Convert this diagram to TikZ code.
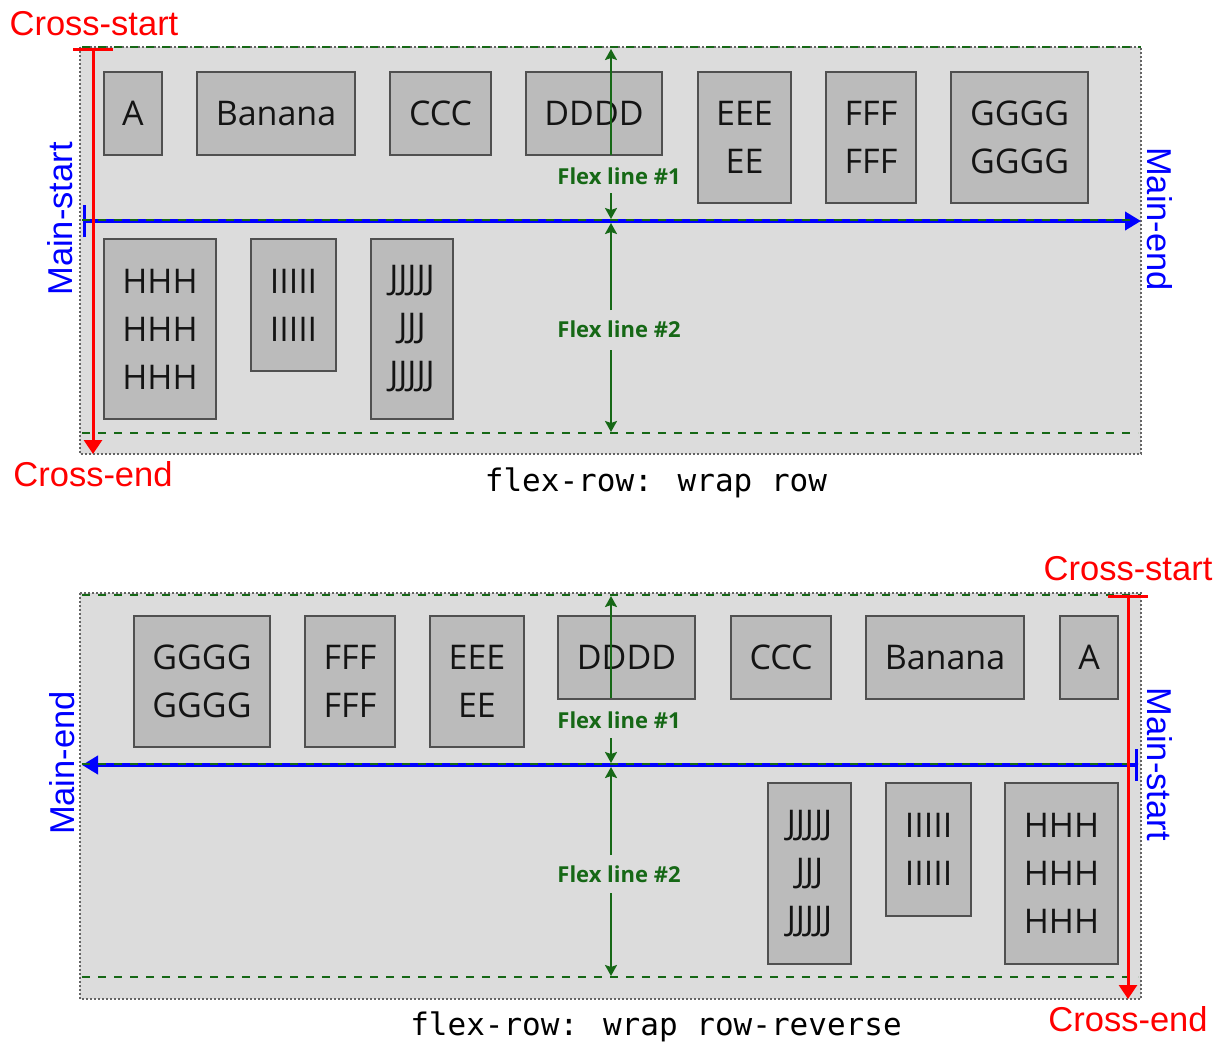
\documentclass[tikz,border=0pt]{standalone}
\usepackage{fontspec}
\setmainfont{Open Sans}
\newfontfamily\labfont{Liberation Sans}
\newfontfamily\capfont{DejaVu Sans Mono}
\usetikzlibrary{arrows.meta}
\definecolor{contfill}{RGB}{220,220,220}
\definecolor{itemfill}{RGB}{187,187,187}
\definecolor{itemdraw}{RGB}{80,80,80}
\definecolor{fgreen}{RGB}{22,104,22}
\definecolor{dotgray}{RGB}{100,100,100}
\newcommand\mkitem[6]{\node[itembox, minimum width={#4-#2}, minimum height={#5-#3}] (#1) at ({(#2+#4)/2},{(#3+#5)/2}) {#6};}
\tikzset{
  itembox/.style={draw=itemdraw, fill=itemfill, line width=2pt, inner sep=0pt, align=center, text=black!92,
    font=\fontsize{34}{48}\selectfont},
  container/.style={fill=contfill, draw=dotgray, line width=2pt, dash pattern=on 2pt off 2pt},
  flexbound/.style={draw=fgreen, line width=2.5pt, dash pattern=on 8pt off 8pt},
  mainax/.style={draw=blue, line width=4pt, {Bar[width=32pt,line width=3pt]}-{Triangle[length=16pt,width=18pt]}},
  crossax/.style={draw=red, line width=3pt, {Bar[width=40pt,line width=3pt]}-{Triangle[length=14pt,width=18pt]}},
  flexarrow/.style={draw=fgreen, line width=2pt, -{Stealth[length=11pt,width=12pt,inset=2pt]}},
  flexlab/.style={text=fgreen, font=\fontsize{22}{24}\selectfont\bfseries, inner sep=0pt},
  redlab/.style={text=red, font=\labfont\fontsize{34.5}{36}\selectfont, inner sep=0pt},
  bluelab/.style={text=blue, font=\labfont\fontsize{34.5}{36}\selectfont, inner sep=0pt},
  caption/.style={font=\capfont\fontsize{31}{34}\selectfont, inner sep=0pt}
}
\begin{document}
\begin{tikzpicture}[x=1pt,y=-1pt]
\useasboundingbox (0,0) rectangle (1216,1044);
% ================= TOP: wrap row =================
\path[container] (80,47) rectangle (1141,454);
\mkitem{tA}{104}{72}{162}{155}{A}
\mkitem{tB}{197}{72}{355}{155}{Banana}
\mkitem{tC}{390}{72}{491}{155}{CCC}
\mkitem{tD}{526}{72}{662}{155}{DDDD}
\mkitem{tE}{698}{72}{791}{203}{EEE\\EE}
\mkitem{tF}{826}{72}{916}{203}{FFF\\FFF}
\mkitem{tG}{951}{72}{1088}{203}{GGGG\\GGGG}
\mkitem{tH}{104}{239}{216}{419}{HHH\\HHH\\HHH}
\mkitem{tI}{251}{239}{336}{371}{IIIII\\IIIII}
\mkitem{tJ}{371}{239}{453}{419}{JJJJJ\\JJJ\\JJJJJ}
% flex line boundaries
\coordinate (tb0l) at (82,47);  \coordinate (tb0r) at (1141,47);
\coordinate (tb1l) at (82,220); \coordinate (tb1r) at (1138,220);
\coordinate (tb2l) at (82,433); \coordinate (tb2r) at (1138,433);
% main axis
\coordinate (tms) at (83,221); \coordinate (tme) at (1141,221);
\draw[mainax] (tms) -- (tme);
\draw[flexbound] (tb0l) -- (tb0r);
\draw[flexbound] (tb1l) -- (tb1r);
\draw[flexbound] (tb2l) -- (tb2r);
% cross axis
\coordinate (tcs) at (93,48); \coordinate (tce) at (93,454);
\draw[crossax] (tcs) -- (tce);
% flex line labels and arrows
\node[flexlab] (tfl1) at (619,176) {Flex line \#1};
\node[flexlab] (tfl2) at (619,329) {Flex line \#2};
\coordinate (t1a) at (611,155); \coordinate (t1b) at (611,49);
\coordinate (t1c) at (611,193); \coordinate (t1d) at (611,219);
\coordinate (t2a) at (611,310); \coordinate (t2b) at (611,223);
\coordinate (t2c) at (611,350); \coordinate (t2d) at (611,432);
\draw[flexarrow] (t1a) -- (t1b);
\draw[flexarrow] (t1c) -- (t1d);
\draw[flexarrow] (t2a) -- (t2b);
\draw[flexarrow] (t2c) -- (t2d);
% labels
\node[redlab] (tcsl) at (94,24) {Cross-start};
\node[redlab] (tcel) at (93,474) {Cross-end};
\node[bluelab, rotate=90] (tmsl) at (60,219) {Main-start};
\node[bluelab, rotate=-90] (tmel) at (1160,219) {Main-end};
\node[caption] (tcap) at (656,483) {flex-row: wrap row};
% ================= BOTTOM: wrap row-reverse =================
\path[container] (80,593) rectangle (1141,999);
\mkitem{bG}{134}{616}{270}{747}{GGGG\\GGGG}
\mkitem{bF}{305}{616}{395}{747}{FFF\\FFF}
\mkitem{bE}{430}{616}{524}{747}{EEE\\EE}
\mkitem{bD}{558}{616}{695}{699}{DDDD}
\mkitem{bC}{731}{616}{831}{699}{CCC}
\mkitem{bB}{866}{616}{1024}{699}{Banana}
\mkitem{bA}{1060}{616}{1118}{699}{A}
\mkitem{bJ}{768}{783}{851}{964}{JJJJJ\\JJJ\\JJJJJ}
\mkitem{bI}{886}{783}{971}{916}{IIIII\\IIIII}
\mkitem{bH}{1005}{783}{1118}{964}{HHH\\HHH\\HHH}
\coordinate (bb0l) at (82,595);  \coordinate (bb0r) at (1141,595);
\coordinate (bb1l) at (82,764);  \coordinate (bb1r) at (1138,764);
\coordinate (bb2l) at (82,977);  \coordinate (bb2r) at (1138,977);
\coordinate (bms) at (1138,765); \coordinate (bme) at (82,765);
\draw[mainax] (bms) -- (bme);
\draw[flexbound] (bb0l) -- (bb0r);
\draw[flexbound] (bb1l) -- (bb1r);
\draw[flexbound] (bb2l) -- (bb2r);
\coordinate (bcs) at (1128,595); \coordinate (bce) at (1128,999);
\draw[crossax] (bcs) -- (bce);
\node[flexlab] (bfl1) at (619,720) {Flex line \#1};
\node[flexlab] (bfl2) at (619,874) {Flex line \#2};
\coordinate (b1a) at (611,698); \coordinate (b1b) at (611,596);
\coordinate (b1c) at (611,738); \coordinate (b1d) at (611,763);
\coordinate (b2a) at (611,855); \coordinate (b2b) at (611,767);
\coordinate (b2c) at (611,893); \coordinate (b2d) at (611,976);
\draw[flexarrow] (b1a) -- (b1b);
\draw[flexarrow] (b1c) -- (b1d);
\draw[flexarrow] (b2a) -- (b2b);
\draw[flexarrow] (b2c) -- (b2d);
\node[redlab] (bcsl) at (1128,569) {Cross-start};
\node[redlab] (bcel) at (1128,1019) {Cross-end};
\node[bluelab, rotate=90] (bmel) at (62,763) {Main-end};
\node[bluelab, rotate=-90] (bmsl) at (1160,764) {Main-start};
\node[caption] (bcap) at (656,1027) {flex-row: wrap row-reverse};
\end{tikzpicture}
\end{document}
